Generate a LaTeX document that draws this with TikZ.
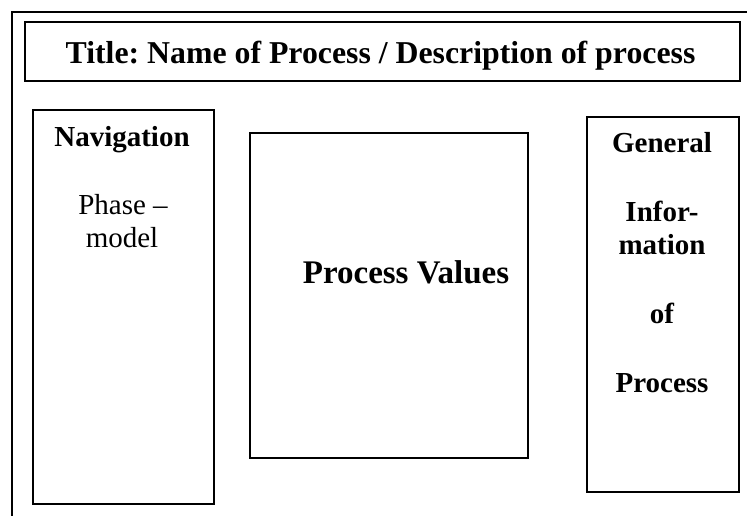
\documentclass[tikz,border=0pt]{standalone}
\usepackage{fontspec}
\setmainfont{Liberation Serif}
\frenchspacing
\begin{document}
\begin{tikzpicture}[x=1pt,y=-1pt,
  panel/.style={draw, line width=2.2pt, inner sep=0pt, anchor=north west},
  titletxtstyle/.style={font=\fontsize{31.8}{36}\selectfont\bfseries, anchor=base, inner sep=0pt},
  valuetxtstyle/.style={font=\fontsize{33}{38}\selectfont\bfseries, anchor=base, inner sep=0pt},
  sidebold/.style={font=\fontsize{29}{33}\selectfont\bfseries, anchor=base, inner sep=0pt},
  sideplain/.style={font=\fontsize{29}{33}\selectfont, anchor=base, inner sep=0pt}]
\useasboundingbox (0,0) rectangle (747,516);

% outer frame (top and left edges)
\coordinate (frameTR) at (747,12);
\coordinate (frameTL) at (12,12);
\coordinate (frameBL) at (12,516);
\draw[line width=2.2pt] (frameTR) -- (frameTL) -- (frameBL);

% panels
\node[panel, minimum width=715pt, minimum height=59pt] (titlebox) at (23.5,21) {};
\node[panel, minimum width=180.5pt, minimum height=393.5pt] (navbox) at (32,109) {};
\node[panel, minimum width=278pt, minimum height=325pt] (valuebox) at (249,132) {};
\node[panel, minimum width=151.5pt, minimum height=375pt] (infobox) at (586,116) {};

% texts
\node[titletxtstyle] (titletxt) at (380.5,63.3) {Title: Name of Process / Description of process};
\node[valuetxtstyle] (valuetxt) at (406,283) {Process Values};

\node[sidebold] (navtxt) at (122,146.7) {Navigation};
\node[sideplain] (phasetxt) at (123,214.3) {Phase –};
\node[sideplain] (modeltxt) at (122,247.5) {model};

\node[sidebold] (gen1) at (662,153) {General};
\node[sidebold] (gen2) at (662,221.5) {Infor-};
\node[sidebold] (gen3) at (662,254.5) {mation};
\node[sidebold] (gen4) at (662,323) {of};
\node[sidebold] (gen5) at (662,392) {Process};
\end{tikzpicture}
\end{document}
